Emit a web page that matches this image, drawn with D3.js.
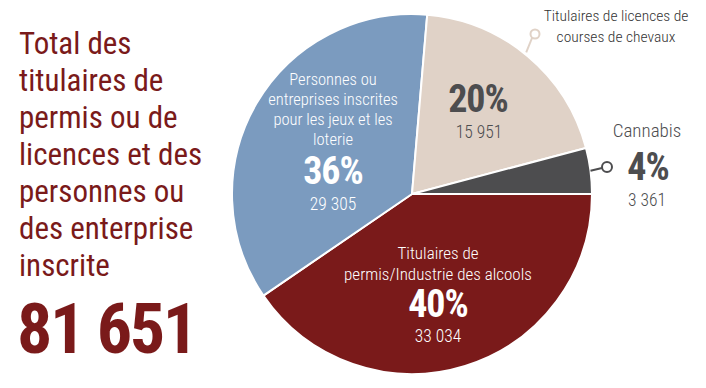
<!DOCTYPE html>
<html><head><meta charset="utf-8">
<script src="https://cdn.jsdelivr.net/npm/d3@7"></script>
<style>
html,body{margin:0;padding:0;background:#fff;}
svg{display:block;}
text{font-family:"Roboto Condensed","Liberation Sans Narrow","DejaVu Sans Condensed",sans-serif;}
</style></head>
<body>
<svg id="c" width="706" height="388"></svg>
<script>
const categories = ["Titulaires de permis/Industrie des alcools","Personnes ou entreprises inscrites pour les jeux et les loterie","Titulaires de licences de courses de chevaux","Cannabis"];
const values = [33034, 29305, 15951, 3361];
const percentLabels = ["40%","36%","20%","4%"];
const valueLabels = ["33 034","29 305","15 951","3 361"];
const colors = ["#7a1a1a","#7b9bbf","#e0d2c7","#4d4d4f"];
const titleLines = ["Total des","titulaires de","permis ou de","licences et des","personnes ou","des enterprise","inscrite"];
const totalLabel = "81 651";

const svg = d3.select("#c");
const cx = 412, cy = 194, R = 180;

// Title
const title = svg.append("g");
title.selectAll("text.t").data(titleLines).join("text")
  .attr("class","t").attr("x",19).attr("y",(d,i)=>54+i*37)
  .attr("fill","#7a1a1a").attr("font-size",31).text(d=>d);
title.append("text").attr("x",17).attr("y",353).attr("fill","#7a1a1a")
  .attr("font-size",70).attr("font-weight","bold").attr("letter-spacing",-2.4).text(totalLabel);

// Pie
const pie = d3.pie().sort(null).startAngle(Math.PI/2).endAngle(Math.PI/2+2*Math.PI);
const arcs = pie(values);
const arc = d3.arc().innerRadius(0).outerRadius(R);
const g = svg.append("g").attr("transform",`translate(${cx},${cy})`);
g.selectAll("path").data(arcs).join("path")
  .attr("d",arc).attr("fill",(d,i)=>colors[i])
  .attr("stroke","#fff").attr("stroke-width",2).attr("stroke-linejoin","round");

function label(lines, x, y0, lh, color, size, anchor="middle"){
  lines.forEach((l,i)=>{
    svg.append("text").attr("x",x).attr("y",y0+i*lh).attr("text-anchor",anchor)
      .attr("fill",color).attr("font-size",size).attr("font-weight",300).text(l);
  });
}
function big(t,x,y,color){
  svg.append("text").attr("x",x).attr("y",y).attr("text-anchor","middle")
    .attr("fill",color).attr("font-size",38).attr("font-weight","bold").attr("letter-spacing",-1).text(t);
}

// Alcools (red)
label(["Titulaires de","permis/Industrie des alcools"], cx+26, 259, 21, "#fff", 17);
big(percentLabels[0], cx+26, 317, "#fff");
label([valueLabels[0]], cx+26, 342, 20, "#fff", 17.5);

// Jeux (blue)
label(["Personnes ou","entreprises inscrites","pour les jeux et les","loterie"], cx-79, 85, 20, "#fff", 16.5);
big(percentLabels[1], cx-79, 184, "#fff");
label([valueLabels[1]], cx-79, 210, 20, "#fff", 17.5);

// Courses (beige)
big(percentLabels[2], cx+66, 112, "#4d4d4f");
label([valueLabels[2]], cx+67, 138, 20, "#4d4d4f", 17.5);
label(["Titulaires de licences de","courses de chevaux"], 616, 21, 21, "#333", 15.5);
// leader for courses
const aC = (arcs[2].startAngle+arcs[2].endAngle)/2 - 0.02;
const ex = cx + (R+2)*Math.sin(aC), ey = cy - (R+2)*Math.cos(aC);
svg.append("line").attr("x1",ex).attr("y1",ey).attr("x2",532).attr("y2",38)
  .attr("stroke","#e0d2c7").attr("stroke-width",2);
svg.append("circle").attr("cx",535).attr("cy",34).attr("r",4.5)
  .attr("fill","#fff").attr("stroke","#e0d2c7").attr("stroke-width",2);

// Cannabis
label(["Cannabis"], 647, 137, 20, "#4d4d4f", 19);
big(percentLabels[3], 648, 180, "#4d4d4f");
label([valueLabels[3]], 647, 206, 20, "#4d4d4f", 17.5);
const aK = (arcs[3].startAngle+arcs[3].endAngle)/2;
const kx = cx + R*Math.sin(aK), ky = cy - R*Math.cos(aK);
svg.append("line").attr("x1",kx).attr("y1",ky).attr("x2",602).attr("y2",168)
  .attr("stroke","#4d4d4f").attr("stroke-width",2);
svg.append("circle").attr("cx",607).attr("cy",167).attr("r",5)
  .attr("fill","#fff").attr("stroke","#4d4d4f").attr("stroke-width",2);
</script>
</body></html>
